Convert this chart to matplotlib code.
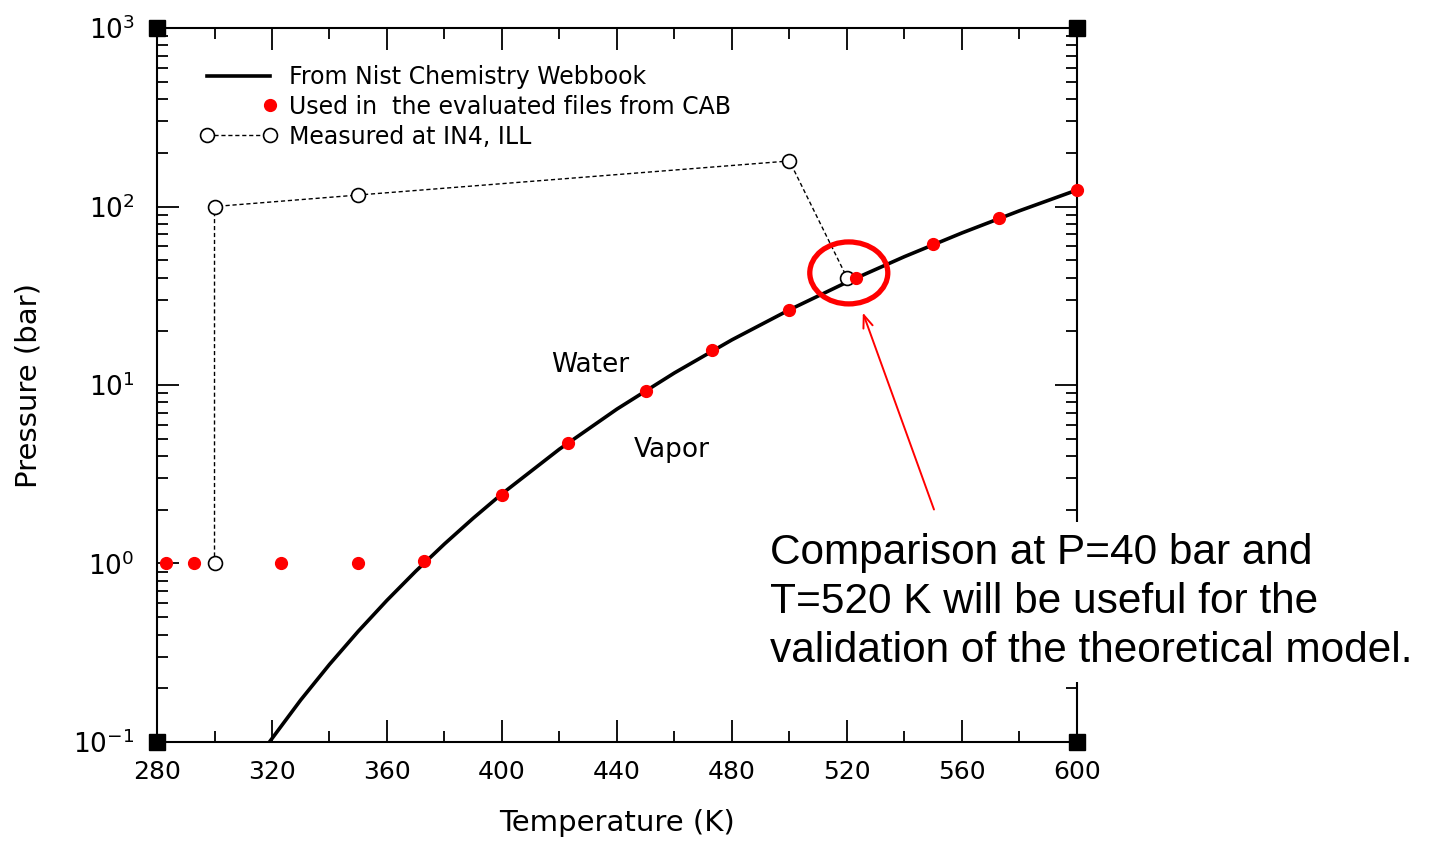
import matplotlib
matplotlib.use('Agg')
import matplotlib.pyplot as plt
import numpy as np
from matplotlib.legend_handler import HandlerLine2D
from matplotlib.patches import Ellipse
from matplotlib.ticker import MultipleLocator, LogLocator

# saturation curve (NIST webbook)
nist_T = [318, 330, 340, 350, 360, 370, 380, 390, 400, 420, 440, 460, 480, 500, 520, 540, 560, 580, 600]
nist_P = [0.0946, 0.172, 0.272, 0.417, 0.622, 0.905, 1.287, 1.794, 2.457, 4.373, 7.331, 11.69, 17.91, 26.39,
          37.69, 52.38, 71.12, 94.63, 123.7]

# points used in the CAB evaluated files
cab_T = [283, 293, 323, 350, 373, 400, 423, 450, 473, 500, 523, 550, 573, 600]
cab_P = [1, 1, 1, 1, 1.03, 2.42, 4.73, 9.26, 15.7, 26.3, 39.8, 61.7, 86.2, 123.7]

# measured at IN4, ILL
meas_T = [300, 300, 350, 500, 520]
meas_P = [1, 100, 116, 180, 40]

note = "Comparison at P=40 bar and\nT=520 K will be useful for the\nvalidation of the theoretical model."


class RightDot(HandlerLine2D):
    # single marker at the right end of the handle
    def get_xdata(self, legend, xdescent, ydescent, width, height, fontsize):
        xdata, _ = super().get_xdata(legend, xdescent, ydescent, width, height, fontsize)
        return np.array([xdata[-1], xdata[-1]]), np.array([xdata[-1]])


def draw():
    plt.rcParams['font.family'] = ['DejaVu Sans']
    fig = plt.figure(figsize=(14.3, 8.42), dpi=100)
    ax = fig.add_axes([0.1098, 0.1188, 0.6433, 0.8479])

    l1, = ax.plot(nist_T, nist_P, color='black', lw=2.6, zorder=2)
    l3, = ax.plot(meas_T, meas_P, color='black', lw=1.0, ls=(0, (3, 2)), marker='o', ms=10,
                  mfc='white', mec='black', mew=1.2, zorder=3)
    l2, = ax.plot(cab_T, cab_P, ls='none', marker='o', ms=8.5, color='red', mec='red',
                  zorder=4, clip_on=False)

    ax.set_yscale('log')
    ax.set_xlim(280, 600)
    ax.set_ylim(0.1, 1000)
    ax.xaxis.set_major_locator(MultipleLocator(40))
    ax.xaxis.set_minor_locator(MultipleLocator(20))
    ax.yaxis.set_major_locator(LogLocator(base=10))
    ax.yaxis.set_minor_locator(LogLocator(base=10, subs=np.arange(2, 10)))
    ax.tick_params(which='both', direction='in', top=True, right=True, width=1.3, colors='black')
    ax.tick_params(which='major', length=16)
    ax.tick_params(which='minor', length=8)
    ax.tick_params(axis='x', which='major', labelsize=18, pad=13)
    ax.tick_params(axis='y', which='major', labelsize=19, pad=16)
    for s in ax.spines.values():
        s.set_linewidth(1.5)

    # corner squares
    ax.plot([280, 600, 280, 600], [0.1, 0.1, 1000, 1000], ls='none', marker='s', ms=11,
            color='black', clip_on=False, zorder=5)

    ax.set_xlabel('Temperature (K)', fontsize=21, labelpad=18)
    ax.set_ylabel('Pressure (bar)', fontsize=21, labelpad=22)

    ax.text(430.6, 12.9, 'Water', fontsize=19, ha='center', va='center')
    ax.text(459, 4.32, 'Vapor', fontsize=19, ha='center', va='center')

    ax.legend([l1, l2, l3],
              ['From Nist Chemistry Webbook', 'Used in  the evaluated files from CAB', 'Measured at IN4, ILL'],
              handler_map={l2: RightDot(numpoints=1), l3: HandlerLine2D(numpoints=2, marker_pad=0)},
              loc='upper left', bbox_to_anchor=(0.042, 0.965), frameon=False, fontsize=17,
              handlelength=2.65, handletextpad=0.8, labelspacing=0.25, borderpad=0)

    # highlight of the comparison point
    ax.add_patch(Ellipse((0.752, 0.657), 0.0848, 0.0868, transform=ax.transAxes, fill=False,
                         edgecolor='red', lw=3.8, zorder=6, clip_on=False))
    ax.annotate('', xy=(525.2, 26.3), xytext=(550.6, 1.94),
                arrowprops=dict(arrowstyle='->,head_length=0.9,head_width=0.35', color='red', lw=1.4))

    fig.text(0.5385, 0.285, note, fontsize=30.5, family='Liberation Sans', ha='left', va='center',
             linespacing=1.3, bbox=dict(facecolor='white', edgecolor='none', pad=8))

    plt.savefig('out.png', dpi=100)


if __name__ == "__main__":
    draw()
